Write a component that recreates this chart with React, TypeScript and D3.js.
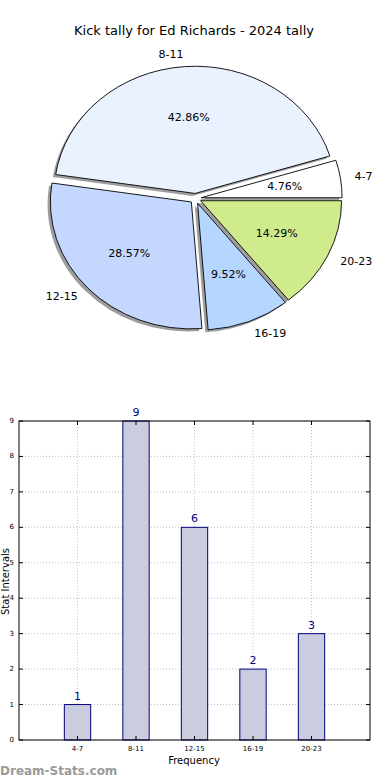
import React from "react";
import * as d3 from "d3";

const categories = ["4-7", "8-11", "12-15", "16-19", "20-23"];
const values = [1, 9, 6, 2, 3];
const sliceColors = ["#ffffff", "#eaf1ff", "#c4d8ff", "#b5d6ff", "#d0eb8c"];
const yTicks = [0, 1, 2, 3, 4, 5, 6, 7, 8, 9];

const W = 390;
const H = 780;
const FONT = "DejaVu Sans, sans-serif";

export default function App() {
  // Pie geometry
  const cx = 195.5;
  const cy = 198.5;
  const rx = 141;
  const ry = 127;
  const explode = 0.04;
  const total = d3.sum(values);

  const pie = d3
    .pie<number>()
    .sort(null)
    .value((d) => d)
    .startAngle(Math.PI / 2)
    .endAngle(Math.PI / 2 - 2 * Math.PI);
  const arcs = pie(values);
  const arcGen = d3.arc<any>().innerRadius(0).outerRadius(1);

  const slices = arcs.map((a, i) => {
    const midD3 = (a.startAngle + a.endAngle) / 2;
    const theta = Math.PI / 2 - midD3; // ccw from east
    const ox = cx + explode * rx * Math.cos(theta);
    const oy = cy - explode * ry * Math.sin(theta);
    return { a, i, theta, ox, oy };
  });

  // Bar chart geometry
  const left = 19;
  const right = 370;
  const top = 421;
  const bottom = 740;
  const x = d3.scaleLinear().domain([-1, 5]).range([left, right]);
  const y = d3.scaleLinear().domain([0, 9]).range([bottom, top]);
  const barW = (x(1) - x(0)) * 0.45;

  return (
    <svg
      width={W}
      height={H}
      style={{ position: "absolute", left: 0, top: 0, background: "#fff" }}
      fontFamily={FONT}
    >
      <text x={194} y={35} textAnchor="middle" fontSize={13} fill="#000">
        Kick tally for Ed Richards - 2024 tally
      </text>

      {/* shadows */}
      {slices.map((s) => (
        <path
          key={"sh" + s.i}
          d={arcGen(s.a) || ""}
          transform={`translate(${s.ox - 2.8},${s.oy + 2.5}) scale(${rx},${ry})`}
          fill="#4d4d4d"
          opacity={0.55}
        />
      ))}
      {/* wedges */}
      {slices.map((s) => (
        <path
          key={"w" + s.i}
          d={arcGen(s.a) || ""}
          transform={`translate(${s.ox},${s.oy}) scale(${rx},${ry})`}
          fill={sliceColors[s.i]}
          stroke="#000"
          strokeWidth={0.9}
          vectorEffect="non-scaling-stroke"
          strokeLinejoin="round"
        />
      ))}
      {/* labels */}
      {slices.map((s) => {
        const c = Math.cos(s.theta);
        const lx = s.ox + 1.1 * rx * c;
        const ly = s.oy - 1.1 * ry * Math.sin(s.theta);
        return (
          <text
            key={"l" + s.i}
            x={lx}
            y={ly}
            textAnchor={c >= 0 ? "start" : "end"}
            dominantBaseline="central"
            fontSize={11}
            fill="#000"
          >
            {categories[s.i]}
          </text>
        );
      })}
      {slices.map((s) => {
        const px = s.ox + 0.6 * rx * Math.cos(s.theta);
        const py = s.oy - 0.6 * ry * Math.sin(s.theta);
        return (
          <text
            key={"p" + s.i}
            x={px}
            y={py}
            textAnchor="middle"
            dominantBaseline="central"
            fontSize={11}
            fill="#000"
          >
            {((values[s.i] / total) * 100).toFixed(2) + "%"}
          </text>
        );
      })}

      {/* Bar chart grid */}
      {yTicks.map((t) => (
        <line
          key={"gy" + t}
          x1={left}
          x2={right}
          y1={y(t)}
          y2={y(t)}
          stroke="#c4c4c4"
          strokeDasharray="1,2"
          strokeWidth={1}
        />
      ))}
      {categories.map((c, i) => (
        <line
          key={"gx" + c}
          x1={x(i)}
          x2={x(i)}
          y1={top}
          y2={bottom}
          stroke="#c4c4c4"
          strokeDasharray="1,2"
          strokeWidth={1}
        />
      ))}
      {/* bars */}
      {values.map((v, i) => (
        <rect
          key={"b" + i}
          x={x(i) - barW / 2}
          y={y(v)}
          width={barW}
          height={y(0) - y(v)}
          fill="#ccccdf"
          stroke="#000080"
          strokeWidth={1}
        />
      ))}
      {values.map((v, i) => (
        <text
          key={"bv" + i}
          x={x(i)}
          y={y(v) - 5}
          textAnchor="middle"
          fontSize={11}
          fill="#000080"
        >
          {v}
        </text>
      ))}
      {/* axes frame */}
      <rect
        x={left}
        y={top}
        width={right - left}
        height={bottom - top}
        fill="none"
        stroke="#000"
        strokeWidth={1}
      />
      {/* y ticks */}
      {yTicks.map((t) => (
        <g key={"yt" + t}>
          <line x1={left} x2={left + 4} y1={y(t)} y2={y(t)} stroke="#000" />
          <line x1={right} x2={right - 4} y1={y(t)} y2={y(t)} stroke="#000" />
          <text
            x={left - 5}
            y={y(t)}
            textAnchor="end"
            dominantBaseline="central"
            fontSize={7}
            fill="#000"
          >
            {t}
          </text>
        </g>
      ))}
      {/* x ticks */}
      {categories.map((c, i) => (
        <g key={"xt" + c}>
          <line x1={x(i)} x2={x(i)} y1={bottom} y2={bottom - 4} stroke="#000" />
          <line x1={x(i)} x2={x(i)} y1={top} y2={top + 4} stroke="#000" />
          <text
            x={x(i)}
            y={bottom + 11}
            textAnchor="middle"
            fontSize={7}
            fill="#000"
          >
            {c}
          </text>
        </g>
      ))}
      <text x={194} y={764} textAnchor="middle" fontSize={10} fill="#000">
        Frequency
      </text>
      <text
        transform={`translate(9,${(top + bottom) / 2 + 1}) rotate(-90)`}
        textAnchor="middle"
        fontSize={10}
        fill="#000"
      >
        Stat Intervals
      </text>
      <text x={0} y={775} fontSize={12} fill="#9a9a9a" fontWeight={600}>
        Dream-Stats.com
      </text>
    </svg>
  );
}
